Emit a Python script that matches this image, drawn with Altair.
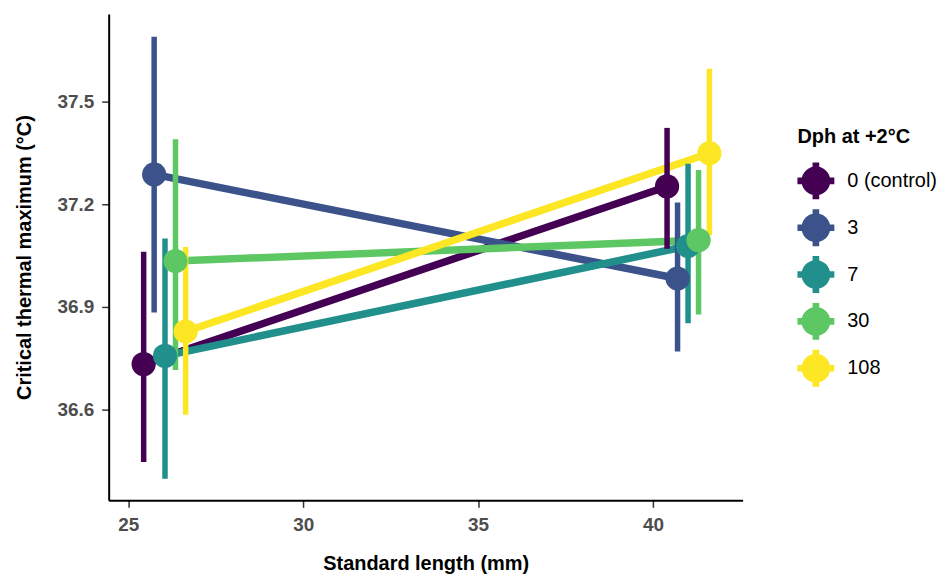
import math
import altair as alt
import pandas as pd

groups = ["0 (control)", "3", "7", "30", "108"]
colors = ["#440154", "#3B528B", "#21908C", "#5DC863", "#FDE725"]

# small fish (dodged standard length)
sl_small = [25.44, 25.74, 26.05, 26.35, 26.64]
ct_small = [36.733, 37.287, 36.757, 37.034, 36.828]
lo_small = [36.447, 36.884, 36.398, 36.716, 36.585]
hi_small = [37.061, 37.689, 37.100, 37.390, 37.075]

# large fish
sl_large = [40.40, 40.70, 41.00, 41.30, 41.61]
ct_large = [37.252, 36.983, 37.078, 37.095, 37.349]
lo_large = [37.070, 36.770, 36.852, 36.878, 37.109]
hi_large = [37.423, 37.205, 37.318, 37.300, 37.596]

x_ticks = [25, 30, 35, 40]
y_ticks = [36.6, 36.9, 37.2, 37.5]

rows = []
for i, g in enumerate(groups):
    rows.append(dict(group=g, idx=i, sl=sl_small[i], ct=ct_small[i], lo=lo_small[i], hi=hi_small[i]))
    rows.append(dict(group=g, idx=i, sl=sl_large[i], ct=ct_large[i], lo=lo_large[i], hi=hi_large[i]))
df = pd.DataFrame(rows)

FONT = "Liberation Sans"


def pointrange_glyph(r=0.78, w=0.18, n=10):
    """Legend key: a filled circle with a cross through it (polygon path in [-1, 1])."""
    d = math.degrees(math.asin(w / r))
    pts = [(-w, -1), (w, -1)]
    for k in range(4):
        a0 = -90 + d + 90 * k
        a1 = -d + 90 * k
        for j in range(n + 1):
            a = math.radians(a0 + (a1 - a0) * j / n)
            pts.append((r * math.cos(a), r * math.sin(a)))
        if k == 0:
            pts += [(1, -w), (1, w)]
        elif k == 1:
            pts += [(w, 1), (-w, 1)]
        elif k == 2:
            pts += [(-1, w), (-1, -w)]
    return "M " + " L ".join(f"{x:.3f} {y:.3f}" for x, y in pts) + " Z"


glyph = pointrange_glyph()

xs = alt.Scale(domain=[24.44, 42.56], nice=False, zero=False)
ys = alt.Scale(domain=[36.335, 37.756], nice=False, zero=False)
cs = alt.Scale(domain=groups, range=colors)
# separate index-based scale for lines / error bars (different domain, so no legend merging)
cs_idx = alt.Scale(domain=list(range(len(groups))), range=colors)

xax = alt.Axis(values=x_ticks, title="Standard length (mm)", format="d")
yax = alt.Axis(values=y_ticks, title="Critical thermal maximum (°C)", format=".1f")

legend = alt.Legend(
    title="Dph at +2°C", orient="none", legendX=691, legendY=114,
    symbolType=glyph, symbolSize=1369, symbolStrokeWidth=0, symbolOpacity=1,
    labelFontSize=20, labelFont=FONT, labelColor="black",
    titleFontSize=20, titleFont=FONT, titleFontWeight="bold", titleColor="black",
    titlePadding=15, rowPadding=10, labelOffset=13, padding=0,
)

base = alt.Chart(df)

lines = base.mark_line(strokeWidth=7.5).encode(
    x=alt.X("sl:Q", scale=xs, axis=xax),
    y=alt.Y("ct:Q", scale=ys, axis=yax),
    stroke=alt.Stroke("idx:O", scale=cs_idx, legend=None),
    detail="group:N",
    order="sl:Q",
)

bars = base.mark_rule(strokeWidth=5.5).encode(
    x=alt.X("sl:Q", scale=xs),
    y=alt.Y("lo:Q", scale=ys),
    y2="hi:Q",
    stroke=alt.Stroke("idx:O", scale=cs_idx, legend=None),
)

points = base.mark_circle(size=590, opacity=1).encode(
    x=alt.X("sl:Q", scale=xs),
    y=alt.Y("ct:Q", scale=ys),
    color=alt.Color("group:N", scale=cs, legend=legend),
)

chart = alt.layer(lines, bars, points).properties(
    width=636, height=488, padding={"left": 7, "top": 5, "right": 0, "bottom": 0}
).configure_view(stroke=None).configure_axis(
    grid=False, domainColor="black", domainWidth=2,
    tickColor="#333333", tickWidth=1.5, tickSize=7,
    labelFont=FONT, labelFontSize=19, labelFontWeight="bold", labelColor="#4D4D4D",
    labelPadding=8, titleFont=FONT, titleFontSize=20, titleFontWeight="bold",
    titleColor="black",
).configure_axisX(titlePadding=19).configure_axisY(titlePadding=22)

chart.save("out.html", embed_options={"renderer": "svg", "actions": False})
